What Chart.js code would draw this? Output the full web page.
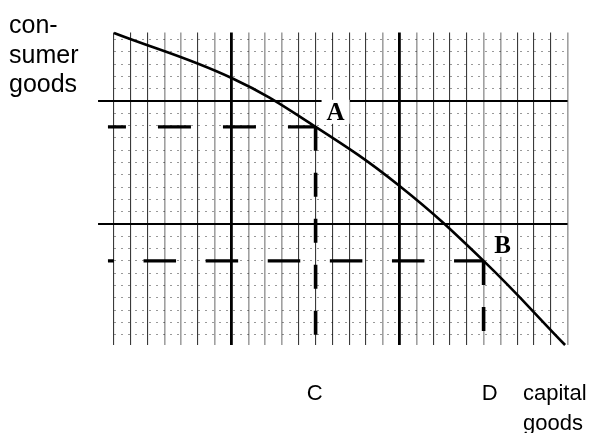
<!DOCTYPE html>
<html><head><meta charset="utf-8">
<script src="https://cdn.jsdelivr.net/npm/chart.js@4/dist/chart.umd.min.js"></script>
<style>html,body{margin:0;padding:0;background:#fff}#wrap{width:600px;height:433px}</style>
</head><body><div id="wrap"><canvas id="c" width="600" height="433"></canvas></div>
<script>
// ---- data ----
const curveX = [0, 7.0, 12.0, 17.0, 22.0, 26.85];
const curveY = [25.53, 21.87, 17.9, 13.09, 7.0, 0.16];
const pointNames = ['A', 'B'];
const pointX = [12.0, 22.0];
const pointY = [17.9, 7.0];
const pointAxisLabels = ['C', 'D'];
const yTitleLines = ['con-', 'sumer', 'goods'];
const xTitleLines = ['capital', 'goods'];
const gridXTicks = [0,1,2,3,4,5,6,7,8,9,10,11,12,13,14,15,16,17,18,19,20,21,22,23,24,25,26,27];
const gridYTicks = [1,2,3,4,5,6,7,8,9,10,11,12,13,14,15,16,17,18,19,20,21,22,23,24,25];
const majorX = [7, 17];
const majorY = [10, 20];
const xMin = 0, xMax = 27, yMin = 0.16, yMax = 25.57;

// ---- styles ----
const darkCols = [0,1,2,5,11,12,13,14,15,19,20,21,24,25,26];
const lineStart = -0.36;

const datasets = [];
datasets.push({
  data: curveX.map((x, i) => ({x, y: curveY[i]})),
  borderColor: '#000', borderWidth: 2.6, pointRadius: 0,
  tension: 0.4, clip: false
});
majorY.forEach(v => datasets.push({
  data: [{x: -0.95, y: v}, {x: xMax, y: v}],
  borderColor: '#000', borderWidth: 1.8, pointRadius: 0, clip: false
}));
const hDash = [[33, 32], [32.5, 29.6]];
const hOff = [15, 26.5];
pointX.forEach((px, i) => {
  datasets.push({
    data: [{x: lineStart, y: pointY[i]}, {x: px, y: pointY[i]}],
    borderColor: '#000', borderWidth: 3.2, pointRadius: 0, clip: false,
    borderDash: hDash[i], borderDashOffset: hOff[i]
  });
  datasets.push({
    data: [{x: px, y: pointY[i]}, {x: px, y: yMin}],
    borderColor: '#000', borderWidth: 3.6, pointRadius: 0, clip: false,
    borderDash: [24, 22], borderDashOffset: 0
  });
});

const textPlugin = {
  id: 'texts',
  afterDatasetsDraw(chart) {
    const {ctx, scales: {x, y}} = chart;
    ctx.save();
    const nameOff = [[20, -14], [19, -15]];
    pointNames.forEach((n, i) => {
      const px = x.getPixelForValue(pointX[i]) + nameOff[i][0];
      const py = y.getPixelForValue(pointY[i]) + nameOff[i][1];
      ctx.font = 'bold 25px "Liberation Serif", "Times New Roman", serif';
      const w = ctx.measureText(n).width;
      ctx.fillStyle = '#fff';
      ctx.fillRect(px - w / 2 - 5, py - 13, w + 10, 24);
      ctx.fillStyle = '#000';
      ctx.textAlign = 'center'; ctx.textBaseline = 'middle';
      ctx.fillText(n, px, py + 1);
    });
    ctx.font = '22px "Liberation Sans", Arial, sans-serif';
    ctx.textBaseline = 'alphabetic';
    ctx.textAlign = 'center';
    const labOff = [-1, 6];
    pointAxisLabels.forEach((l, i) => {
      ctx.fillText(l, x.getPixelForValue(pointX[i]) + labOff[i], y.bottom + 55);
    });
    ctx.textAlign = 'left';
    xTitleLines.forEach((t, i) => ctx.fillText(t, 523, y.bottom + 55 + i * 30));
    ctx.font = '25px "Liberation Sans", Arial, sans-serif';
    yTitleLines.forEach((t, i) => ctx.fillText(t, 9, 33 + i * 29.5));
    ctx.restore();
  }
};

new Chart(document.getElementById('c'), {
  type: 'line',
  data: {datasets},
  plugins: [textPlugin],
  options: {
    responsive: false, animation: false, devicePixelRatio: 1,
    layout: {padding: {left: 114, top: 32.5, right: 32.4, bottom: 88}},
    plugins: {legend: {display: false}, tooltip: {enabled: false}},
    scales: {
      x: {
        type: 'linear', min: xMin, max: xMax,
        afterBuildTicks: s => { s.ticks = gridXTicks.map(v => ({value: v})); },
        ticks: {display: false}, border: {display: false},
        grid: {
          drawTicks: false,
          color: c => majorX.includes(c.tick.value) ? '#000' : (darkCols.includes(c.tick.value) ? '#3a3a3a' : '#a0a0a0'),
          lineWidth: c => majorX.includes(c.tick.value) ? 2.8 : (darkCols.includes(c.tick.value) ? 1.1 : 1.6)
        }
      },
      y: {
        type: 'linear', min: yMin, max: yMax,
        afterBuildTicks: s => { s.ticks = gridYTicks.map(v => ({value: v})); },
        ticks: {display: false}, border: {display: false, dash: [2, 5]},
        grid: {
          drawTicks: false,
          color: c => majorY.includes(c.tick.value) ? 'rgba(0,0,0,0)' : 'rgba(0,0,0,0.4)',
          lineWidth: 1
        }
      }
    }
  }
});
</script></body></html>
